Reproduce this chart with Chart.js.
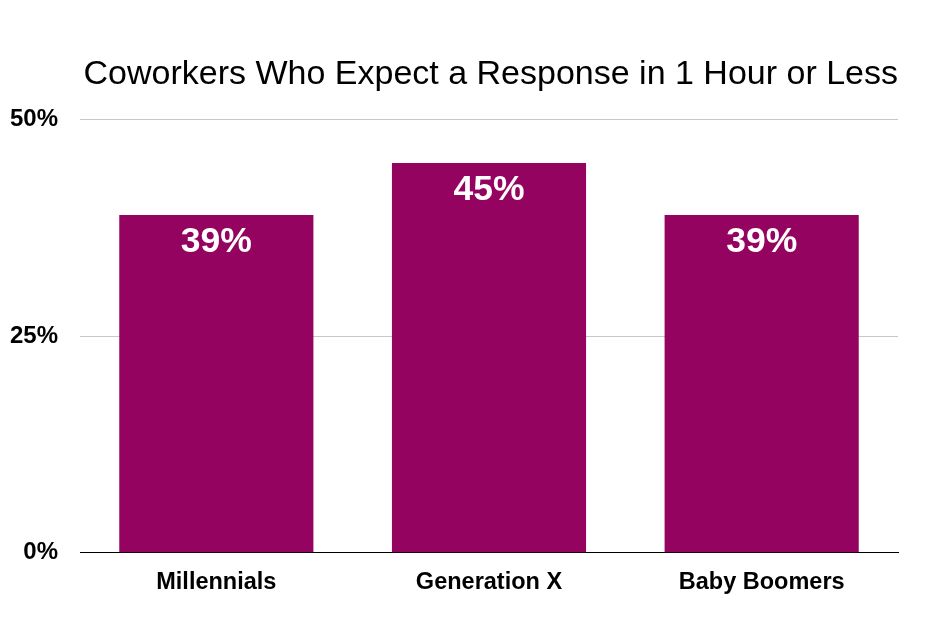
<!DOCTYPE html>
<html><head><meta charset="utf-8">
<script src="https://cdn.jsdelivr.net/npm/chart.js@4.4.0/dist/chart.umd.min.js"></script>
<style>html,body{margin:0;padding:0;background:#fff}#wrap{width:935px;height:632px}</style>
</head><body><div id="wrap"><canvas id="c" width="935" height="632"></canvas></div>
<script>
const categories = ["Millennials", "Generation X", "Baby Boomers"];
const values = [39, 45, 39];
const yTicks = [0, 25, 50];
const titleText = "Coworkers Who Expect a Response in 1 Hour or Less";
const FONT = "'Liberation Sans', Arial, Helvetica, sans-serif";

const valueLabels = {
  id: 'valueLabels',
  afterDatasetsDraw(chart) {
    const ctx = chart.ctx;
    const meta = chart.getDatasetMeta(0);
    ctx.save();
    ctx.fillStyle = '#fff';
    ctx.font = 'bold 35.5px ' + FONT;
    ctx.textAlign = 'center';
    ctx.textBaseline = 'middle';
    meta.data.forEach((bar, i) => {
      ctx.fillText(values[i] + '%', bar.x, bar.y + 27);
    });
    ctx.restore();
  }
};

new Chart(document.getElementById('c'), {
  type: 'bar',
  data: {
    labels: categories,
    datasets: [{ data: values, backgroundColor: '#940360', borderWidth: 0,
      categoryPercentage: 0.712, barPercentage: 1 }]
  },
  options: {
    responsive: false,
    animation: false,
    layout: { padding: { left: 10, right: 37, top: 54, bottom: 27 } },
    plugins: {
      legend: { display: false },
      tooltip: { enabled: false },
      title: { display: true, text: titleText, color: '#000', align: 'end',
        font: { family: FONT, size: 34, weight: 'normal' },
        padding: { top: 0, bottom: 25 } }
    },
    scales: {
      x: {
        grid: { display: false },
        border: { display: true, color: '#000', width: 1 },
        ticks: { color: '#000', font: { family: FONT, size: 23.5, weight: 'bold' }, padding: 8, maxRotation: 0 }
      },
      y: {
        min: 0, max: 50,
        afterBuildTicks(axis) { axis.ticks = yTicks.map(v => ({ value: v })); },
        afterFit(axis) { axis.width = 70; },
        border: { display: false },
        grid: { drawTicks: false, color: ctx => ctx.tick && ctx.tick.value === 0 ? '#000' : '#c8c8c8', lineWidth: 1 },
        ticks: { color: '#000', crossAlign: 'near', padding: 22,
          font: { family: FONT, size: 24, weight: 'bold' },
          callback: v => v + '%' }
      }
    }
  },
  plugins: [valueLabels]
});
</script></body></html>
